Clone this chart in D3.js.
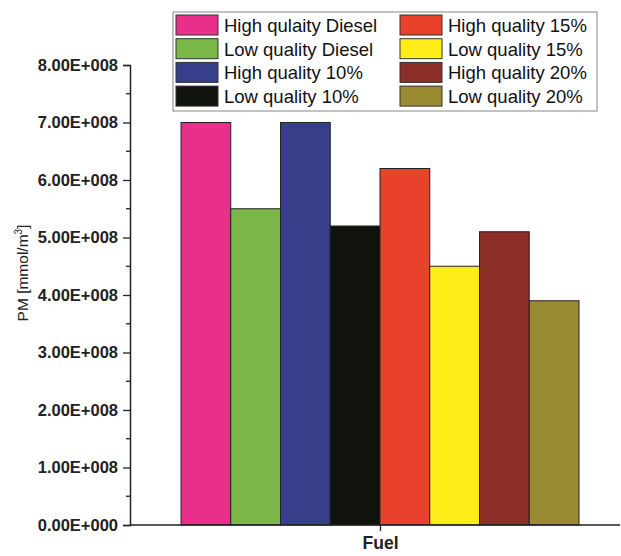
<!DOCTYPE html>
<html>
<head>
<meta charset="utf-8">
<script src="https://cdn.jsdelivr.net/npm/d3@7"></script>
<style>
  body { margin: 0; background: #fff; }
  svg { display: block; font-family: "Liberation Sans", Arial, sans-serif; }
</style>
</head>
<body>
<svg id="chart" width="621" height="556"></svg>
<script>
const seriesNames = [
  "High qulaity Diesel", "Low quality Diesel", "High quality 10%", "Low quality 10%",
  "High quality 15%", "Low quality 15%", "High quality 20%", "Low quality 20%"
];
const pmValues = [7.0e8, 5.5e8, 7.0e8, 5.2e8, 6.2e8, 4.5e8, 5.1e8, 3.9e8];
const barColors = ["#e8308a", "#7ab648", "#373f8a", "#10120c", "#e8412c", "#ffed1a", "#8b2e28", "#9a8a32"];
const yTicks = [0, 1e8, 2e8, 3e8, 4e8, 5e8, 6e8, 7e8, 8e8];
const categories = ["Fuel"];

const svg = d3.select("#chart");
const margin = { top: 65, right: 1, bottom: 31, left: 130 };
const innerWidth = 621 - margin.left - margin.right;
const innerHeight = 556 - margin.top - margin.bottom;

const g = svg.append("g")
  .attr("transform", `translate(${margin.left},${margin.top})`);

// scales
const y = d3.scaleLinear().domain([0, 8e8]).range([innerHeight, 0]);
const x = d3.scalePoint().domain(categories).range([0, 500]).padding(0.5);
const groupWidth = 398;
const xBar = d3.scaleBand()
  .domain(seriesNames)
  .range([x("Fuel") - groupWidth / 2, x("Fuel") + groupWidth / 2]);

// bars
g.selectAll("rect.bar")
  .data(seriesNames)
  .enter()
  .append("rect")
  .attr("class", "bar")
  .attr("x", d => xBar(d))
  .attr("width", xBar.bandwidth())
  .attr("y", (d, i) => y(pmValues[i]))
  .attr("height", (d, i) => y(0) - y(pmValues[i]))
  .attr("fill", (d, i) => barColors[i])
  .attr("stroke", "#222")
  .attr("stroke-width", 1);

// y axis
const fmt = v => v === 0 ? "0.00E+000" : (v / 1e8).toFixed(2) + "E+008";
const yAxis = g.append("g")
  .call(d3.axisLeft(y).tickValues(yTicks).tickFormat(fmt).tickSize(7).tickPadding(5));
yAxis.select(".domain").attr("stroke", "#222").attr("stroke-width", 1.5);
yAxis.selectAll(".tick line").attr("stroke", "#222").attr("stroke-width", 1.3);
yAxis.selectAll("text")
  .attr("fill", "#222")
  .style("font-size", "16.5px")
  .style("font-weight", "bold");

// minor ticks
g.append("g")
  .selectAll("line")
  .data(yTicks.slice(0, -1).map(v => v + 5e7))
  .enter()
  .append("line")
  .attr("x1", -4)
  .attr("x2", 0)
  .attr("y1", d => y(d))
  .attr("y2", d => y(d))
  .attr("stroke", "#222")
  .attr("stroke-width", 1.3);

// x axis
const xAxis = g.append("g")
  .attr("transform", `translate(0,${innerHeight})`)
  .call(d3.axisBottom(x).tickSize(6).tickPadding(6));
xAxis.select(".domain").attr("stroke", "#222").attr("stroke-width", 1.5)
  .attr("d", `M0,0H${innerWidth}`);
xAxis.selectAll(".tick line").attr("stroke", "#222").attr("stroke-width", 1.3);
xAxis.selectAll("text")
  .attr("fill", "#222")
  .style("font-size", "17.5px")
  .style("font-weight", "bold");

// y label
svg.append("text")
  .attr("transform", "translate(28,273) rotate(-90)")
  .attr("text-anchor", "middle")
  .attr("fill", "#222")
  .style("font-size", "15.5px")
  .html('PM [mmol/m<tspan dy="-6" font-size="10px">3</tspan><tspan dy="6">]</tspan>');

// legend
const legend = svg.append("g").attr("transform", "translate(173,12)");
legend.append("rect")
  .attr("width", 424)
  .attr("height", 99)
  .attr("fill", "#fff")
  .attr("stroke", "#999")
  .attr("stroke-width", 1.2);

const items = legend.selectAll("g.item")
  .data(seriesNames)
  .enter()
  .append("g")
  .attr("class", "item")
  .attr("transform", (d, i) => `translate(${i < 4 ? 3 : 227},${3 + (i % 4) * 23.7})`);

items.append("rect")
  .attr("width", 42)
  .attr("height", 20)
  .attr("fill", (d, i) => barColors[i])
  .attr("stroke", "#333")
  .attr("stroke-width", 1);

items.append("text")
  .attr("x", 48)
  .attr("y", 17)
  .attr("fill", "#111")
  .style("font-size", "18.5px")
  .text(d => d);
</script>
</body>
</html>
